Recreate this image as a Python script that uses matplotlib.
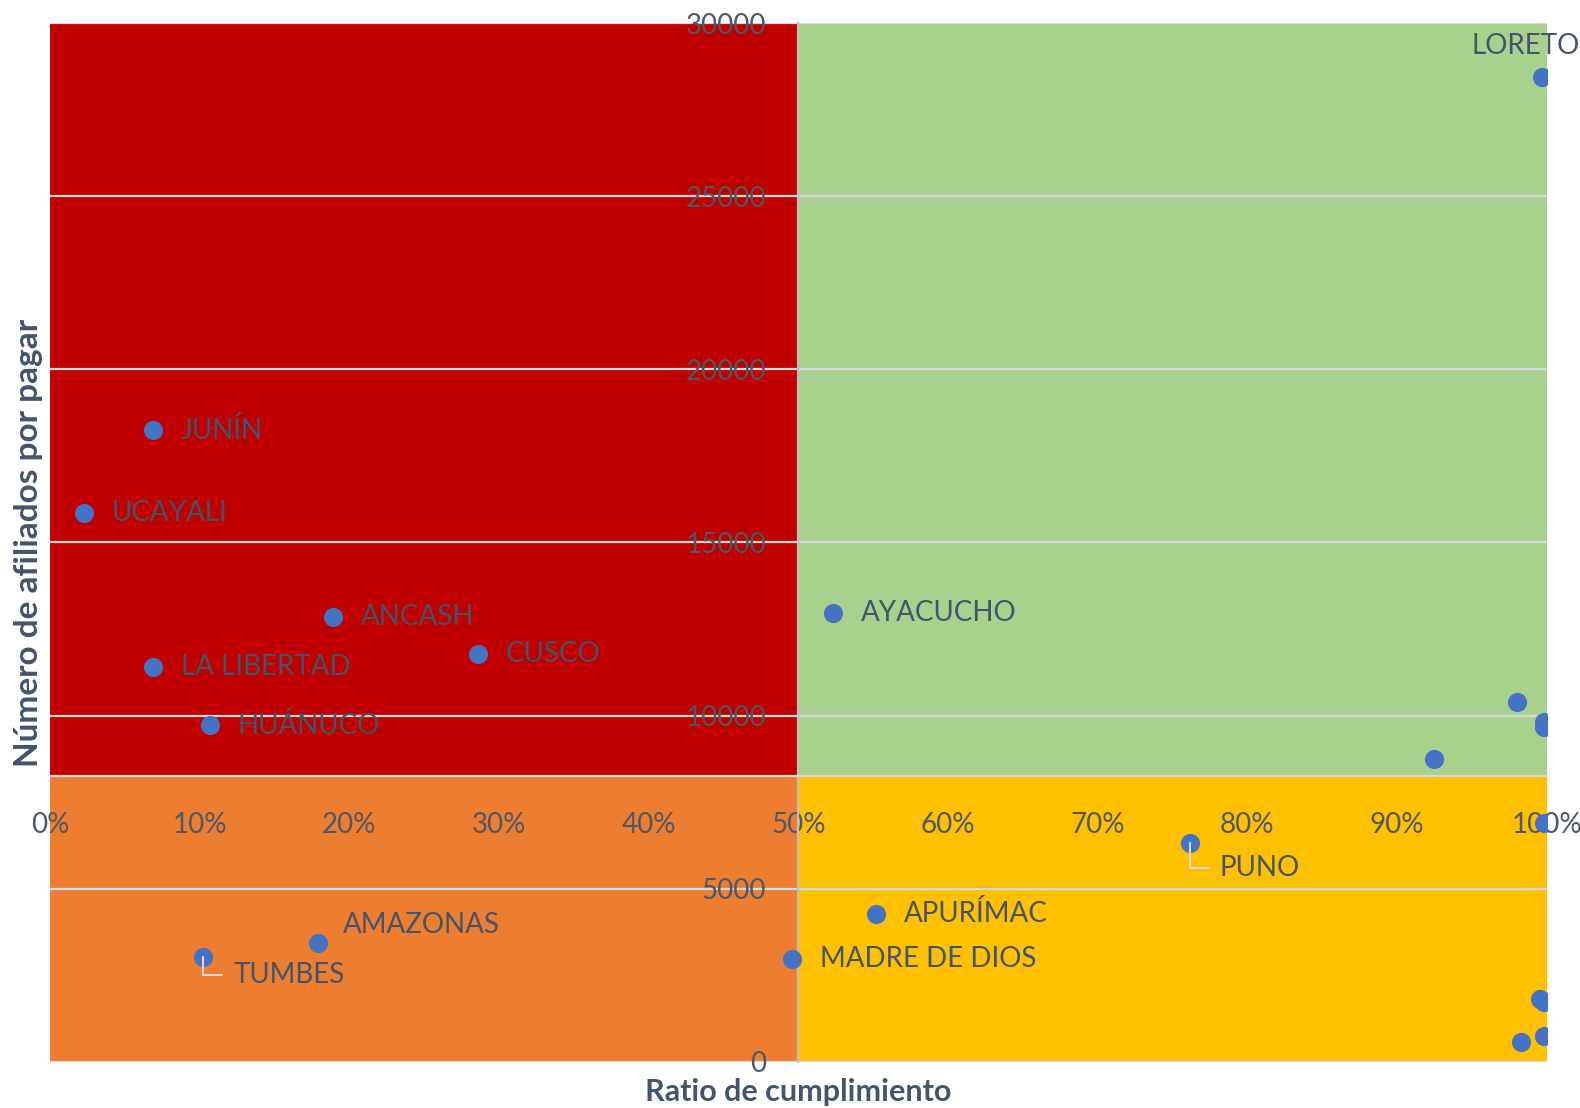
import numpy as np
import matplotlib.pyplot as plt
from matplotlib.ticker import PercentFormatter

# Datos
nombres = ['LORETO', 'JUNÍN', 'UCAYALI', 'ANCASH', 'CUSCO', 'LA LIBERTAD', 'HUÁNUCO',
           'AYACUCHO', '', '', '', '', '', 'PUNO', 'APURÍMAC', 'MADRE DE DIOS',
           'AMAZONAS', 'TUMBES', '', '', '', '']
ratio = [0.997, 0.069, 0.0225, 0.189, 0.286, 0.069, 0.107,
         0.523, 0.980, 0.998, 0.998, 0.925, 0.998, 0.762, 0.552, 0.496,
         0.179, 0.102, 0.9955, 0.998, 0.998, 0.983]
afiliados = [28450, 18240, 15860, 12860, 11790, 11410, 9720,
             12950, 10400, 9820, 9680, 8740, 6890, 6310, 4280, 2980,
             3430, 3040, 1810, 1740, 750, 570]

x_corte = 0.5
y_corte = 8260
y_max = 30000

# posición de cada etiqueta respecto al punto (en puntos)
offsets = {'LORETO': (-12, 22), 'AMAZONAS': (18, 13),
           'TUMBES': (22, -13), 'PUNO': (21, -18)}
con_guia = ['TUMBES', 'PUNO']

plt.rcParams['font.family'] = ['Lato', 'DejaVu Sans']

fig = plt.figure(figsize=(15.8, 11.08), dpi=100)
ax = fig.add_axes([0.03165, 0.04152, 0.94725, 0.93772])
ax.set_xlim(0, 1)
ax.set_ylim(0, y_max)

# cuadrantes
ax.fill_between([0, x_corte], y_corte, y_max, color='#C00000', lw=0)
ax.fill_between([x_corte, 1], y_corte, y_max, color='#A9D18E', lw=0)
ax.fill_between([0, x_corte], 0, y_corte, color='#ED7D31', lw=0)
ax.fill_between([x_corte, 1], 0, y_corte, color='#FFC000', lw=0)

# ejes cruzando en el centro
ax.spines['left'].set_position(('data', x_corte))
ax.spines['bottom'].set_position(('data', y_corte))
ax.spines['top'].set_visible(False)
ax.spines['right'].set_visible(False)
ax.spines['left'].set_color('#BFBFBF')
ax.spines['bottom'].set_color('#D9D9D9')
ax.spines['left'].set_linewidth(1.6)
ax.spines['bottom'].set_linewidth(1.6)

ax.set_yticks(np.arange(0, y_max + 1, 5000))
ax.set_xticks(np.arange(0, 1.01, 0.1))
ax.xaxis.set_major_formatter(PercentFormatter(1.0, decimals=0))
ax.tick_params(axis='both', length=0, labelsize=20, labelcolor='#4F5866')
ax.tick_params(axis='y', pad=23)
ax.tick_params(axis='x', pad=26)
ax.yaxis.grid(True, color='#D9D9D9', lw=1.6)

ax.set_xlabel('Ratio de cumplimiento', fontsize=22, fontweight='bold', color='#44546A')
ax.set_ylabel('Número de afiliados por pagar', fontsize=24, fontweight='bold', color='#44546A')
ax.xaxis.set_label_coords(0.5, -0.0154)
ax.yaxis.set_label_coords(-0.005, 0.5)

ax.scatter(ratio, afiliados, s=190, color='#4472C4', zorder=2.6, lw=0)

for nombre, x, y in zip(nombres, ratio, afiliados):
    if not nombre:
        continue
    dx, dy = offsets.get(nombre, (20, 0))
    ha = 'center' if nombre == 'LORETO' else 'left'
    flecha = None
    if nombre in con_guia:
        flecha = dict(arrowstyle='-', color='#D9D9D9', lw=1.5, relpos=(0, 0.5),
                      connectionstyle='angle,angleA=0,angleB=90,rad=0',
                      shrinkA=6, shrinkB=0)
    ax.annotate(nombre, (x, y), xytext=(dx, dy), textcoords='offset points',
                ha=ha, va='center', fontsize=20, color='#44546A',
                arrowprops=flecha, annotation_clip=False, zorder=3)

plt.savefig('out.png', dpi=100)
